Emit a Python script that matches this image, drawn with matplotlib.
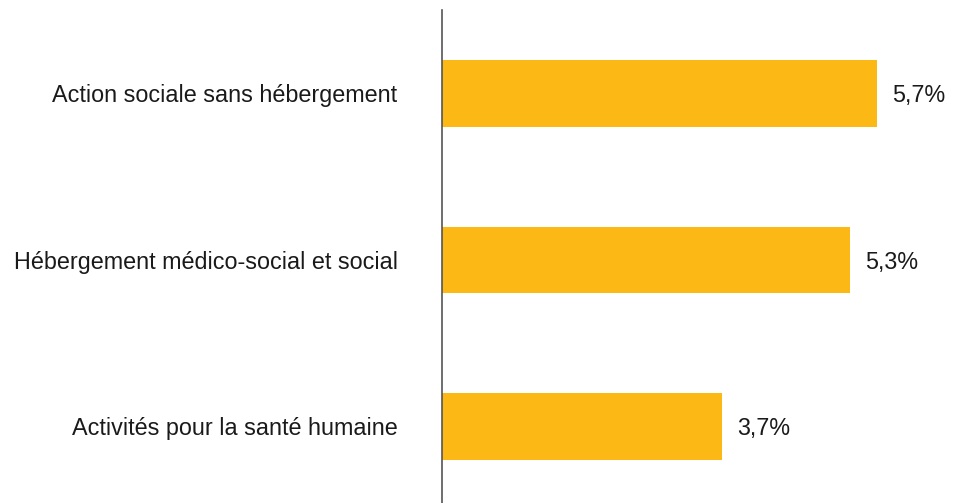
import matplotlib.pyplot as plt

plt.rcParams['font.family'] = ['Liberation Sans', 'DejaVu Sans']

categories = ['Action sociale sans hébergement',
              'Hébergement médico-social et social',
              'Activités pour la santé humaine']
values = [5.7, 5.35, 3.67]
value_labels = ['5,7%', '5,3%', '3,7%']

fig = plt.figure(figsize=(9.7, 5.03), dpi=100)
ax = fig.add_axes([442 / 970, 0, 528 / 970, 493 / 503])

pos = range(len(categories))
ax.barh(pos, values, height=0.4, color='#FCB814')
for p, v, lab in zip(pos, values, value_labels):
    ax.text(v + 0.2, p + 0.015, lab, va='center', ha='left', fontsize=16.8, color='#1a1a1a')

ax.set_xlim(0, 528 / 76.3)
ax.set_ylim(2.46, -0.5)
ax.set_yticks(list(pos))
ax.set_yticklabels(categories, fontsize=16.8, color='#1a1a1a')
ax.tick_params(axis='y', length=0, pad=32)
ax.set_xticks([])
for s in ['top', 'right', 'bottom']:
    ax.spines[s].set_visible(False)
ax.spines['left'].set_color('#555555')
ax.spines['left'].set_linewidth(1.2)

fig.savefig('out.png', dpi=100)
